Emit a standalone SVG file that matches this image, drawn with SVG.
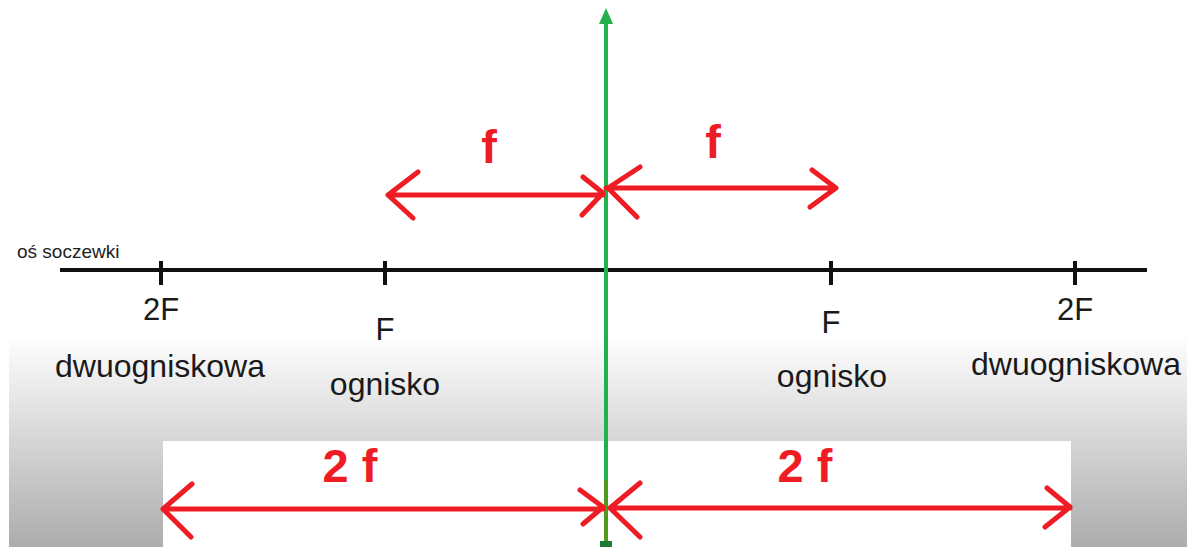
<svg xmlns="http://www.w3.org/2000/svg" width="1195" height="547" viewBox="0 0 1195 547">
<defs>
<linearGradient id="bg" gradientUnits="userSpaceOnUse" x1="0" y1="335" x2="0" y2="547">
<stop offset="0" stop-color="#ffffff"/>
<stop offset="1" stop-color="#acacac"/>
</linearGradient>
<style>
.lbl{font-family:"Liberation Sans",Arial,sans-serif;font-size:32px;fill:#1a1a1a;text-anchor:middle}
.sm{font-size:31px}
.red{font-family:"Liberation Sans",Arial,sans-serif;font-size:47px;font-weight:bold;fill:#ee1c24;text-anchor:middle}
.arr{stroke:#ee1c24;stroke-width:5;fill:none;stroke-linecap:round;stroke-linejoin:round}
.ax{stroke:#111;stroke-width:4;fill:none}
</style>
</defs>
<rect width="1195" height="547" fill="#ffffff"/>
<rect x="9" y="6" width="1178" height="541" fill="url(#bg)"/>
<rect x="163" y="441" width="908" height="106" fill="#ffffff"/>

<g id="axis">
<line class="ax" x1="60" y1="270" x2="1147" y2="270"/>
<line class="ax" x1="161" y1="261" x2="161" y2="285"/>
<line class="ax" x1="385" y1="261" x2="385" y2="285"/>
<line class="ax" x1="831" y1="261" x2="831" y2="285"/>
<line class="ax" x1="1075" y1="261" x2="1075" y2="285"/>
<text x="17" y="258" style="font-family:'Liberation Sans',Arial,sans-serif;font-size:19px;fill:#222">oś soczewki</text>
</g>

<g id="node-2F-left">
<text class="lbl sm" x="161" y="320">2F</text>
<text class="lbl" x="160" y="377">dwuogniskowa</text>
</g>
<g id="node-F-left">
<text class="lbl sm" x="385" y="340">F</text>
<text class="lbl" x="385" y="395">ognisko</text>
</g>
<g id="node-F-right">
<text class="lbl sm" x="831" y="333">F</text>
<text class="lbl" x="832" y="387">ognisko</text>
</g>
<g id="node-2F-right">
<text class="lbl sm" x="1075" y="320">2F</text>
<text class="lbl" x="1076" y="375">dwuogniskowa</text>
</g>

<g id="lens">
<line x1="606" y1="22" x2="606" y2="480" stroke="#22b14c" stroke-width="4"/>
<line x1="606" y1="480" x2="606" y2="542" stroke="#4f9a1c" stroke-width="4"/>
<polygon points="606,8 599,24 613,24" fill="#22b14c"/>
<rect x="600" y="541" width="12" height="6" fill="#1e7a34"/>
</g>

<g id="connectors">
<path class="arr" d="M388,195 H603 M418,172 L388,195 L413,218 M583,177 L603,193 L582,215"/>
<path class="arr" d="M606,188 H836 M640,167 L608,188 L637,217 M812,170 L836,188 L810,207"/>
<path class="arr" d="M163,509 H603 M192,484 L163,509 L191,537 M580,490 L603,507 L583,524"/>
<path class="arr" d="M610,508 H1070 M640,483 L610,508 L640,537 M1047,488 L1070,507 L1045,527"/>
</g>

<g id="labels">
<text class="red" x="489" y="163">f</text>
<text class="red" x="713" y="158">f</text>
<text class="red" x="350" y="482">2 f</text>
<text class="red" x="805" y="482">2 f</text>
</g>
</svg>
